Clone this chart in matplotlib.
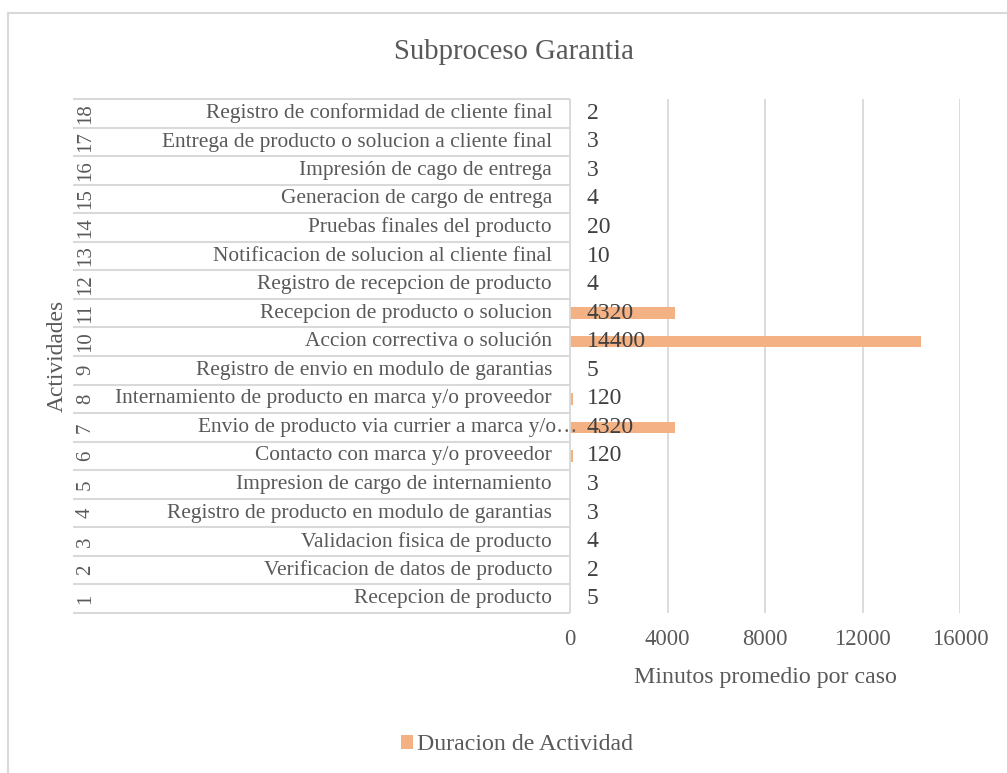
import numpy as np
import matplotlib
matplotlib.use("Agg")
import matplotlib.pyplot as plt
from matplotlib.lines import Line2D

plt.rcParams['font.family'] = ['Liberation Serif', 'DejaVu Serif']

# activities of the warranty subprocess, in order 1..18
actividades = [
    "Recepcion de producto",
    "Verificacion de datos de producto",
    "Validacion fisica de producto",
    "Registro de producto en modulo de garantias",
    "Impresion de cargo de internamiento",
    "Contacto con marca y/o proveedor",
    "Envio de producto via currier a marca y/o\u2026",
    "Internamiento de producto en marca y/o proveedor",
    "Registro de envio en modulo de garantias",
    "Accion correctiva o solución",
    "Recepcion de producto o solucion",
    "Registro de recepcion de producto",
    "Notificacion de solucion al cliente final",
    "Pruebas finales del producto",
    "Generacion de cargo de entrega",
    "Impresión de cago de entrega",
    "Entrega de producto o solucion a cliente final",
    "Registro de conformidad de cliente final",
]
minutos = [5, 2, 4, 3, 3, 120, 4320, 120, 5, 14400, 4320, 4, 10, 20, 4, 3, 3, 2]
ticks = [0, 4000, 8000, 12000, 16000]

serie = "Duracion de Actividad"
titulo = "Subproceso Garantia"
eje_x = "Minutos promedio por caso"
eje_y = "Actividades"

GRAY_TXT = '#595959'
GRAY_LN = '#D9D9D9'
BAR = '#F4B183'

W, H = 1007, 773


def box(x0, y0, x1, y1):
    # pixel rectangle (top-left origin) -> figure fraction [l, b, w, h]
    return [x0 / W, 1 - y1 / H, (x1 - x0) / W, (y1 - y0) / H]


fig = plt.figure(figsize=(W / 100, H / 100), dpi=100)
ax = fig.add_axes(box(570, 99, 960, 613))
tbl = fig.add_axes(box(73, 99, 570, 613), sharey=ax)

ypos = np.arange(len(minutos))
bars = ax.barh(ypos, minutos, height=0.4, color=BAR, zorder=2)
ax.set_xlim(ticks[0], ticks[-1])
ax.set_ylim(-0.5, len(minutos) - 0.5)
ax.set_xticks(ticks)
ax.set_xticklabels([str(t) for t in ticks])
ax.tick_params(axis='x', length=0, labelsize=16.3, labelcolor=GRAY_TXT, pad=11.5)
ax.tick_params(axis='y', left=False, labelleft=False)
ax.grid(axis='x', color=GRAY_LN, lw=1.3)
ax.set_axisbelow(True)
for s in ax.spines.values():
    s.set_visible(False)

# value labels sit at the base of each bar
for y, v in zip(ypos, minutos):
    ax.annotate(str(v), xy=(0, y), xytext=(12, 0), textcoords='offset points',
                ha='left', va='center', fontsize=17, color='#404040',
                annotation_clip=False, zorder=3)

ax.set_xlabel(eje_x, fontsize=17.2, color=GRAY_TXT)
ax.xaxis.set_label_coords(0.5, (613 - 678) / 514)
ax.xaxis.label.set_va('center')

# two level category table on the left
tbl.set_xlim(0, 1)
tbl.axis('off')
tbl.hlines(np.arange(len(minutos) + 1) - 0.5, 0, 1, color=GRAY_LN, lw=1.5, clip_on=False)
tbl.vlines(1, -0.5, len(minutos) - 0.5, color=GRAY_LN, lw=1.3, clip_on=False)
for y, name in zip(ypos, actividades):
    tbl.text(0.025, y, str(y + 1), rotation=90, ha='center', va='center',
             fontsize=15, color=GRAY_TXT)
    xr = 1.014 if name.endswith('\u2026') else 0.964
    tbl.text(xr, y, name, ha='right', va='center', fontsize=15.4,
             color=GRAY_TXT, zorder=4)

fig.text(57 / W, 1 - 356 / H, eje_y, rotation=90, ha='center', va='center',
         fontsize=16.9, color=GRAY_TXT)
fig.text(514 / W, 1 - 52 / H, titulo, ha='center', va='center',
         fontsize=20.7, color=GRAY_TXT)

fig.legend(handles=[bars], labels=[serie], loc='center',
           bbox_to_anchor=(517 / W, 1 - 745 / H), frameon=False, fontsize=17.2,
           handlelength=0.5, handleheight=0.5, handletextpad=0.2,
           labelcolor=GRAY_TXT)

# chart area border
fig.add_artist(Line2D([8 / W, 8 / W], [0, 1 - 13 / H], color=GRAY_LN, lw=1.5))
fig.add_artist(Line2D([8 / W, 1], [1 - 13 / H, 1 - 13 / H], color=GRAY_LN, lw=1.5))

fig.savefig('out.png', dpi=100)
